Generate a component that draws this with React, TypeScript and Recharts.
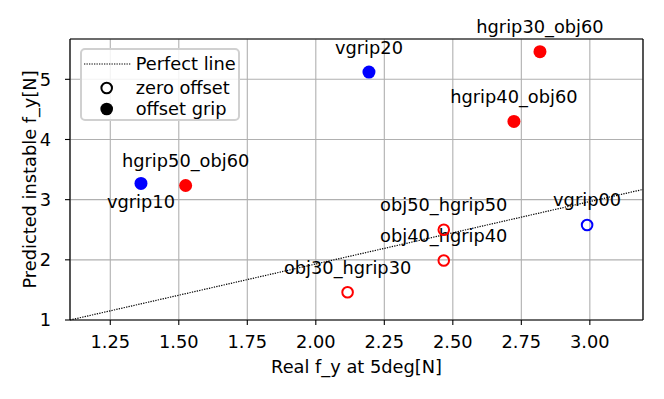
import React from 'react';
import { ScatterChart, Scatter, XAxis, YAxis, CartesianGrid, ReferenceLine, Legend } from 'recharts';

const FONT = '"DejaVu Sans", sans-serif';
const FS = 17.8;

const filledRedNames = ['hgrip30_obj60', 'hgrip40_obj60', 'hgrip50_obj60'];
const filledRedX = [2.818, 2.723, 1.525];
const filledRedY = [5.46, 4.3, 3.235];
const filledBlueNames = ['vgrip20', 'vgrip10'];
const filledBlueX = [2.194, 1.362];
const filledBlueY = [5.12, 3.27];
const hollowRedNames = ['obj30_hgrip30', 'obj40_hgrip40', 'obj50_hgrip50'];
const hollowRedX = [2.116, 2.467, 2.467];
const hollowRedY = [1.46, 1.99, 2.5];
const hollowBlueNames = ['vgrip00'];
const hollowBlueX = [2.99];
const hollowBlueY = [2.58];
const labelBelow = ['vgrip10'];

const perfectLineX = [1.103, 3.194];
const perfectLineY = [1.0, 3.17];

const xTicks = [1.25, 1.5, 1.75, 2.0, 2.25, 2.5, 2.75, 3.0];
const yTicks = [1, 2, 3, 4, 5];
const xDomain: [number, number] = [1.103, 3.194];
const yDomain: [number, number] = [1, 5.67];
const legendLabels = ['Perfect line', 'zero offset', 'offset grip'];
const xLabel = 'Real f_y at 5deg[N]';
const yLabel = 'Predicted instable f_y[N]';

const zip = (names: string[], xs: number[], ys: number[]) =>
  xs.map((x, i) => ({ name: names[i], x, y: ys[i] }));

const filledRed = zip(filledRedNames, filledRedX, filledRedY);
const filledBlue = zip(filledBlueNames, filledBlueX, filledBlueY);
const hollowRed = zip(hollowRedNames, hollowRedX, hollowRedY);
const hollowBlue = zip(hollowBlueNames, hollowBlueX, hollowBlueY);
const perfectLine = perfectLineX.map((x, i) => ({ x, y: perfectLineY[i] }));

const makeShape = (color: string, filled: boolean) => (props: any) => {
  const { cx, cy, payload } = props;
  const below = labelBelow.includes(payload?.name);
  return (
    <g>
      {filled ? (
        <circle cx={cx} cy={cy} r={6.5} fill={color} />
      ) : (
        <circle cx={cx} cy={cy} r={5.3} fill="none" stroke={color} strokeWidth={2} />
      )}
      <text
        x={cx}
        y={below ? cy + 25 : cy - 18.5}
        textAnchor="middle"
        fontSize={FS}
        fontFamily={FONT}
        fill="#000"
      >
        {payload?.name}
      </text>
    </g>
  );
};

const LegendBox = () => (
  <div
    style={{
      width: 160,
      height: 73,
      boxSizing: 'border-box',
      border: '2px solid #d0d0d0',
      borderRadius: 5,
      background: 'rgba(255,255,255,0.85)',
    }}
  >
    <svg width={156} height={69} style={{ display: 'block', overflow: 'visible' }}>
      <g transform="translate(-2,-2)">
        <line x1={4} y1={16} x2={51} y2={16} stroke="#000" strokeWidth={1.2} strokeDasharray="1.3 1.2" />
        <text x={55.7} y={21.5} fontSize={FS} fontFamily={FONT} fill="#000">{legendLabels[0]}</text>
        <circle cx={26.7} cy={40} r={5.3} fill="none" stroke="#000" strokeWidth={2} />
        <text x={55.7} y={45.5} fontSize={FS} fontFamily={FONT} fill="#000">{legendLabels[1]}</text>
        <circle cx={26.7} cy={61} r={6.3} fill="#000" />
        <text x={55.7} y={66.5} fontSize={FS} fontFamily={FONT} fill="#000">{legendLabels[2]}</text>
      </g>
    </svg>
  </div>
);

const XLabel = (props: any) => {
  const vb = props.viewBox || { x: 70, y: 320, width: 573, height: 60 };
  return (
    <text x={vb.x + vb.width / 2} y={373} textAnchor="middle" fontSize={FS} fontFamily={FONT} fill="#000">
      {xLabel}
    </text>
  );
};

const YLabel = (props: any) => {
  const vb = props.viewBox || { x: 10, y: 39, width: 60, height: 281 };
  const cy = vb.y + vb.height / 2;
  return (
    <text
      x={29}
      y={cy}
      transform={`rotate(-90, 29, ${cy})`}
      textAnchor="middle"
      dominantBaseline="central"
      fontSize={FS}
      fontFamily={FONT}
      fill="#000"
    >
      {yLabel}
    </text>
  );
};

export default function App() {
  const tickStyle = { fill: '#000', fontSize: FS, fontFamily: FONT };
  return (
    <div>
      <style>{'body{margin:0;}'}</style>
      <ScatterChart width={664} height={399} margin={{ top: 39, right: 21, bottom: 19, left: 10 }}>
        <CartesianGrid stroke="#b0b0b0" strokeWidth={1.1} />
        <XAxis
          type="number"
          dataKey="x"
          domain={xDomain}
          ticks={xTicks}
          interval={0}
          tickFormatter={(v: number) => v.toFixed(2)}
          height={60}
          tickSize={5}
          tickMargin={10}
          tick={tickStyle}
          axisLine={{ stroke: '#000', strokeWidth: 1.2 }}
          tickLine={{ stroke: '#000', strokeWidth: 1.1 }}
          label={<XLabel />}
        />
        <YAxis
          type="number"
          dataKey="y"
          domain={yDomain}
          ticks={yTicks}
          interval={0}
          width={60}
          tickSize={5}
          tickMargin={14}
          tick={tickStyle}
          axisLine={{ stroke: '#000', strokeWidth: 1.2 }}
          tickLine={{ stroke: '#000', strokeWidth: 1.1 }}
          label={<YLabel />}
        />
        <ReferenceLine y={yDomain[1]} stroke="#000" strokeWidth={1.2} />
        <ReferenceLine x={xDomain[1]} stroke="#000" strokeWidth={1.2} />
        <Scatter
          data={perfectLine}
          line={{ stroke: '#000', strokeWidth: 1.2, strokeDasharray: '1.3 1.2' }}
          shape={() => <g />}
          isAnimationActive={false}
          legendType="none"
        />
        <Scatter data={filledRed} shape={makeShape('#ff0000', true)} isAnimationActive={false} />
        <Scatter data={filledBlue} shape={makeShape('#0000ff', true)} isAnimationActive={false} />
        <Scatter data={hollowRed} shape={makeShape('#ff0000', false)} isAnimationActive={false} />
        <Scatter data={hollowBlue} shape={makeShape('#0000ff', false)} isAnimationActive={false} />
        <Legend
          layout="horizontal"
          verticalAlign="middle"
          align="center"
          content={() => <LegendBox />}
          wrapperStyle={{ position: 'absolute', left: 80, top: 48, width: 160, height: 73 }}
        />
      </ScatterChart>
    </div>
  );
}
